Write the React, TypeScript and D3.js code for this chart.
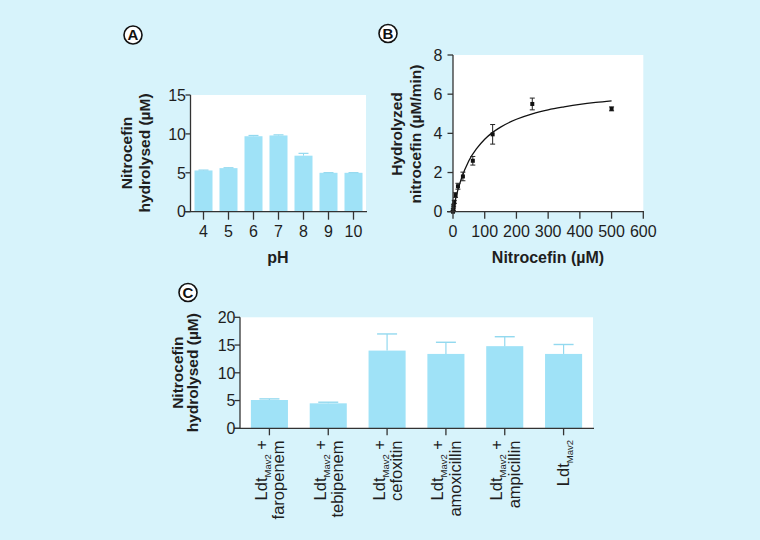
import React from "react";
import * as d3 from "d3";

// Panel A data
const phCategories = ["4", "5", "6", "7", "8", "9", "10"];
const phValues = [5.3, 5.6, 9.7, 9.8, 7.2, 5.0, 5.0];
const phErrors = [0.05, 0.05, 0.1, 0.08, 0.3, 0.02, 0.02];
const aYTicks = [0, 5, 10, 15];

// Panel B data
const nitroConc = [0, 1, 2, 4, 8, 15.6, 31.25, 62.5, 125, 250, 500];
const nitroRate = [0, 0.1, 0.3, 0.5, 0.85, 1.3, 1.8, 2.6, 3.95, 5.5, 5.25];
const nitroErr = [0.05, 0.05, 0.05, 0.08, 0.12, 0.15, 0.22, 0.22, 0.5, 0.3, 0.1];
const fitX = [0, 10, 25, 50, 75, 100, 125, 150, 200, 250, 300, 350, 400, 450, 500];
const fitY = [0, 0.78, 1.62, 2.6, 3.23, 3.7, 4.05, 4.32, 4.72, 5.0, 5.2, 5.35, 5.48, 5.58, 5.66];
const bXTicks = [0, 100, 200, 300, 400, 500, 600];
const bYTicks = [0, 2, 4, 6, 8];

// Panel C data
const cLine1 = ["Ldt", "Ldt", "Ldt", "Ldt", "Ldt", "Ldt"];
const cDrugs = ["faropenem", "tebipenem", "cefoxitin", "amoxicillin", "ampicillin", ""];
const cValues = [5.1, 4.5, 14.0, 13.4, 14.8, 13.4];
const cErrors = [0.2, 0.2, 3.0, 2.1, 1.7, 1.7];
const cYTicks = [0, 5, 10, 15, 20];

const BG = "#d7f3fb";
const BAR = "#9fe2f7";
const ERR = "#93d9ef";
const AXIS = "#333";
const TXT = "#1e1e1e";
const FONT = "'Liberation Sans', Arial, Helvetica, sans-serif";

function PanelLabel({ x, y, t }: { x: number; y: number; t: string }) {
  return (
    <g>
      <circle cx={x} cy={y} r={9} fill="#fff" stroke="#111" strokeWidth={1.6} />
      <text x={x} y={y + 5.3} textAnchor="middle" fontSize={15} fontWeight="bold" fill="#111">
        {t}
      </text>
    </g>
  );
}

export default function App() {
  // Panel A scales
  const ax = d3.scaleBand<string>().domain(phCategories).range([191, 366]).paddingInner(0.28).paddingOuter(0.14);
  const ay = d3.scaleLinear().domain([0, 15]).range([211.7, 95]);

  // Panel B scales
  const bx = d3.scaleLinear().domain([0, 600]).range([453, 643.3]);
  const by = d3.scaleLinear().domain([0, 8]).range([211.7, 55]);
  const fitLine = d3
    .line<number>()
    .x((_, i) => bx(fitX[i]))
    .y((d) => by(d))
    .curve(d3.curveMonotoneX)(fitY);

  // Panel C scales
  const cIdx = cValues.map((_, i) => String(i));
  const cx = d3.scaleBand<string>().domain(cIdx).range([240, 593]).paddingInner(0.37).paddingOuter(0.185);
  const cy = d3.scaleLinear().domain([0, 20]).range([428.3, 317.3]);

  return (
    <svg
      width={760}
      height={540}
      style={{ position: "absolute", left: 0, top: 0 }}
      fontFamily={FONT}
    >
      <rect x={0} y={0} width={760} height={540} fill={BG} />

      {/* ---------- Panel A ---------- */}
      <PanelLabel x={133} y={35} t="A" />
      <rect x={191} y={ay(15)} width={175} height={ay(0) - ay(15)} fill="#fff" />
      {phValues.map((v, i) => {
        const x0 = ax(phCategories[i])!;
        const w = ax.bandwidth();
        const cxm = x0 + w / 2;
        return (
          <g key={i}>
            <rect x={x0} y={ay(v)} width={w} height={ay(0) - ay(v)} fill={BAR} />
            <line x1={cxm} x2={cxm} y1={ay(v)} y2={ay(v + phErrors[i])} stroke={ERR} strokeWidth={1} />
            <line x1={cxm - 5} x2={cxm + 5} y1={ay(v + phErrors[i])} y2={ay(v + phErrors[i])} stroke={ERR} strokeWidth={1.2} />
          </g>
        );
      })}
      <line x1={190.5} x2={190.5} y1={ay(15)} y2={ay(0)} stroke={AXIS} strokeWidth={1.3} />
      <line x1={185} x2={367} y1={ay(0)} y2={ay(0)} stroke={AXIS} strokeWidth={1.3} />
      {aYTicks.map((t) => (
        <g key={t}>
          <line x1={185.5} x2={190.5} y1={ay(t)} y2={ay(t)} stroke={AXIS} strokeWidth={1.3} />
          <text x={186} y={ay(t)} dy="0.36em" textAnchor="end" fontSize={16} fill={TXT}>
            {t}
          </text>
        </g>
      ))}
      {phCategories.map((c) => {
        const xm = ax(c)! + ax.bandwidth() / 2;
        return (
          <g key={c}>
            <line x1={xm} x2={xm} y1={ay(0)} y2={ay(0) + 8} stroke={AXIS} strokeWidth={1.3} />
            <text x={xm} y={236.5} textAnchor="middle" fontSize={16} fill={TXT}>
              {c}
            </text>
          </g>
        );
      })}
      <text x={278} y={263} textAnchor="middle" fontSize={16} fontWeight="bold" fill={TXT}>
        pH
      </text>
      <text transform="translate(126.7,153) rotate(-90)" textAnchor="middle" fontSize={15.5} fontWeight="bold" fill={TXT}>
        <tspan x={0} y={5.5}>Nitrocefin</tspan>
        <tspan x={0} y={23.5}>hydrolysed (µM)</tspan>
      </text>

      {/* ---------- Panel B ---------- */}
      <PanelLabel x={388} y={33.5} t="B" />
      <rect x={453} y={by(8)} width={643.3 - 453} height={by(0) - by(8)} fill="#fff" />
      <path d={fitLine || ""} fill="none" stroke="#111" strokeWidth={1.3} />
      {nitroConc.map((c, i) => {
        const px = bx(c);
        const py = by(nitroRate[i]);
        const yt = by(nitroRate[i] + nitroErr[i]);
        const yb = by(Math.max(0, nitroRate[i] - nitroErr[i]));
        return (
          <g key={i}>
            <line x1={px} x2={px} y1={yt} y2={yb} stroke="#222" strokeWidth={1} />
            <line x1={px - 2.5} x2={px + 2.5} y1={yt} y2={yt} stroke="#222" strokeWidth={1} />
            <line x1={px - 2.5} x2={px + 2.5} y1={yb} y2={yb} stroke="#222" strokeWidth={1} />
            <rect x={px - 2} y={py - 2} width={4} height={4} fill="#111" />
          </g>
        );
      })}
      <line x1={453} x2={453} y1={by(8)} y2={by(0)} stroke={AXIS} strokeWidth={1.3} />
      <line x1={447} x2={644} y1={by(0)} y2={by(0)} stroke={AXIS} strokeWidth={1.3} />
      {bYTicks.map((t) => (
        <g key={t}>
          <line x1={447.5} x2={453} y1={by(t)} y2={by(t)} stroke={AXIS} strokeWidth={1.3} />
          <text x={442.5} y={by(t)} dy="0.36em" textAnchor="end" fontSize={16} fill={TXT}>
            {t}
          </text>
        </g>
      ))}
      {bXTicks.map((t) => (
        <g key={t}>
          <line x1={bx(t)} x2={bx(t)} y1={by(0)} y2={by(0) + 7} stroke={AXIS} strokeWidth={1.3} />
          <text x={bx(t)} y={236.5} textAnchor="middle" fontSize={16} fill={TXT}>
            {t}
          </text>
        </g>
      ))}
      <text x={548} y={263} textAnchor="middle" fontSize={16} fontWeight="bold" fill={TXT}>
        Nitrocefin (µM)
      </text>
      <text transform="translate(396,134) rotate(-90)" textAnchor="middle" fontSize={15.5} fontWeight="bold" fill={TXT}>
        <tspan x={0} y={5.5}>Hydrolyzed</tspan>
        <tspan x={0} y={24.5}>nitrocefin (µM/min)</tspan>
      </text>

      {/* ---------- Panel C ---------- */}
      <PanelLabel x={188} y={292.5} t="C" />
      <rect x={240} y={cy(20)} width={353} height={cy(0) - cy(20)} fill="#fff" />
      {cValues.map((v, i) => {
        const x0 = cx(cIdx[i])!;
        const w = cx.bandwidth();
        const xm = x0 + w / 2;
        const ye = cy(v + cErrors[i]);
        return (
          <g key={i}>
            <rect x={x0} y={cy(v)} width={w} height={cy(0) - cy(v)} fill={BAR} />
            <line x1={xm} x2={xm} y1={cy(v)} y2={ye} stroke={ERR} strokeWidth={1.2} />
            <line x1={xm - 10} x2={xm + 10} y1={ye} y2={ye} stroke={ERR} strokeWidth={1.4} />
          </g>
        );
      })}
      <line x1={240} x2={240} y1={cy(20)} y2={cy(0)} stroke={AXIS} strokeWidth={1.3} />
      <line x1={234} x2={594} y1={cy(0)} y2={cy(0)} stroke={AXIS} strokeWidth={1.3} />
      {cYTicks.map((t) => (
        <g key={t}>
          <line x1={234.5} x2={240} y1={cy(t)} y2={cy(t)} stroke={AXIS} strokeWidth={1.3} />
          <text x={235.5} y={cy(t)} dy="0.36em" textAnchor="end" fontSize={16} fill={TXT}>
            {t}
          </text>
        </g>
      ))}
      {cIdx.map((k, i) => {
        const xm = cx(k)! + cx.bandwidth() / 2;
        const twoLine = cDrugs[i] !== "";
        return (
          <g key={k}>
            <line x1={xm} x2={xm} y1={cy(0)} y2={cy(0) + 7} stroke={AXIS} strokeWidth={1.3} />
            <text
              transform={`translate(${xm},440) rotate(-90)`}
              textAnchor="end"
              fontSize={16.5}
              fill={TXT}
            >
              <tspan x={0} y={twoLine ? -2.5 : 5.8}>{cLine1[i]}</tspan>
              <tspan fontSize={9.5} dy={4}>Mav2</tspan>
              {twoLine ? <tspan dy={-4}> +</tspan> : <tspan dy={-4}></tspan>}
            </text>
            {twoLine && (
              <text
                transform={`translate(${xm},440.5) rotate(-90)`}
                textAnchor="end"
                fontSize={16.5}
                fill={TXT}
              >
                <tspan x={0} y={15}>{cDrugs[i]}</tspan>
              </text>
            )}
          </g>
        );
      })}
      <text transform="translate(177,372.7) rotate(-90)" textAnchor="middle" fontSize={15.5} fontWeight="bold" fill={TXT}>
        <tspan x={0} y={5.5}>Nitrocefin</tspan>
        <tspan x={0} y={20.5}>hydrolysed (µM)</tspan>
      </text>
    </svg>
  );
}
